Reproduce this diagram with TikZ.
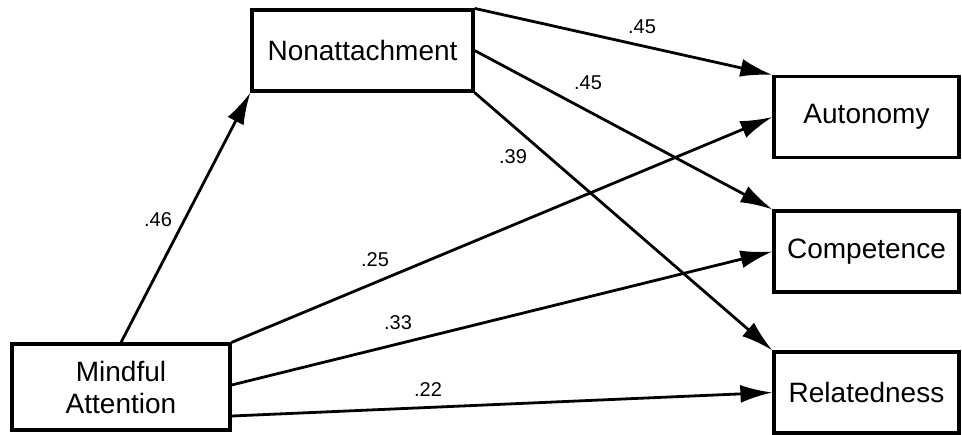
\documentclass[tikz,border=0pt]{standalone}
\usepackage{fontspec}
\setmainfont{Liberation Sans}
\usetikzlibrary{arrows.meta}
\tikzset{
	varbox/.style = {
		rectangle,
		draw=black,
		line width=1.6pt,
		align=center,
		inner sep=0pt,
		font=\fontsize{14}{16}\selectfont
	},
	var_mind/.style = {
		varbox,
		minimum width=109pt,
		minimum height=43pt
	},
	var_non/.style = {
		varbox,
		minimum width=110.5pt,
		minimum height=40.5pt
	},
	var_need/.style = {
		varbox,
		minimum width=92.5pt,
		minimum height=40.5pt
	},
	coef/.style = {
		inner sep=0pt,
		font=\fontsize{10}{12}\selectfont
	},
	link/.style = {
		->,
		line width=1.4pt
	},
}

\begin{document}
\begin{tikzpicture}[x=0.5pt, y=-0.5pt, >={Latex[length=16pt,width=9pt]}]
\useasboundingbox (0,0) rectangle (962,434);
% variables
\node [var_mind] (mind) at (121,387) {Mindful\\Attention};
\node [var_non] (non) at (362.5,50.5) {Nonattachment};
\node [var_need] (aut) at (866.5,117) {Autonomy};
\node [var_need] (comp) at (866.5,251.5) {Competence};
\node [var_need] (rel) at (866.5,392.5) {Relatedness};
% paths
\draw [link] (mind.north) -- (non.south west);
\draw [link] (non.north east) -- (aut.north west);
\draw [link] (non.east) -- (comp.north west);
\draw [link] (non.south east) -- (rel.north west);
\draw [link] (mind.north east) -- (aut.west);
\draw [link] ([yshift=1pt]mind.east) -- (comp.west);
\draw [link] ([yshift=-14.5pt]mind.east) -- (rel.west);
% coefficients
\node [coef] (c46) at (158,220) {.46};
\node [coef] (c45a) at (642,27) {.45};
\node [coef] (c45b) at (588,83) {.45};
\node [coef] (c39) at (513,157) {.39};
\node [coef] (c25) at (375,260) {.25};
\node [coef] (c33) at (398,323) {.33};
\node [coef] (c22) at (428,390) {.22};
\end{tikzpicture}
\end{document}
